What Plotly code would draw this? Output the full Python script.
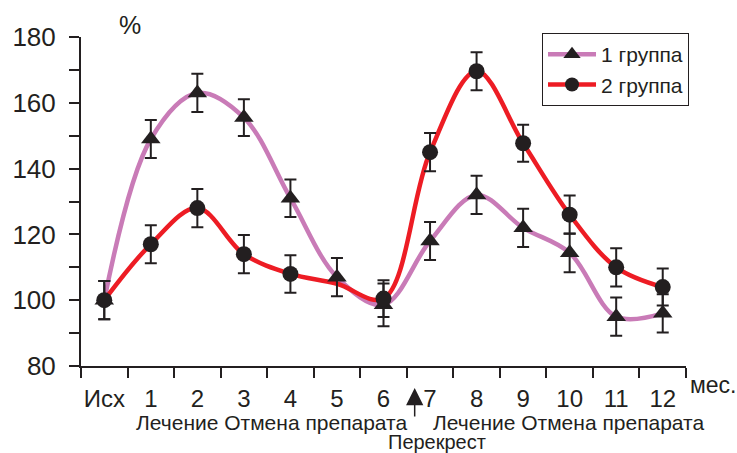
import plotly.graph_objects as go

categories = ["Исх", "1", "2", "3", "4", "5", "6", "7", "8", "9", "10", "11", "12"]
x_pos = list(range(len(categories)))

group1 = [100, 149, 163, 155.5, 131, 107, 98.6, 118, 132, 122, 114.4, 95, 96]
group1_err = [5.8, 5.8, 5.8, 5.6, 5.7, 5.8, 6.5, 5.8, 5.8, 5.8, 5.9, 5.8, 5.8]

group2_line = [100, 117, 128, 114, 108, 105, 100.5, 145, 169.6, 147.7, 126, 110, 104]
group2 = [100, 117, 128, 114, 108, None, 100.5, 145, 169.6, 147.7, 126, 110, 104]
group2_err = [5.8, 5.8, 5.8, 5.8, 5.7, None, 5.6, 5.8, 5.8, 5.6, 5.8, 5.8, 5.6]

names = ["1 группа", "2 группа"]
pink = "#C97BB7"
red = "#ED1C24"
ink = "#231F20"
font_family = "Liberation Sans, Arial, sans-serif"

fig = go.Figure()

fig.add_trace(go.Scatter(x=x_pos, y=group1, mode="lines", line=dict(color=pink, width=4.5, shape="spline"),
                         showlegend=False, hoverinfo="skip"))
fig.add_trace(go.Scatter(x=x_pos, y=group2_line, mode="lines", line=dict(color=red, width=4.5, shape="spline"),
                         showlegend=False, hoverinfo="skip"))
fig.add_trace(go.Scatter(x=x_pos, y=group1, mode="markers",
                         marker=dict(symbol="triangle-up", size=17, color=ink),
                         error_y=dict(type="data", array=group1_err, color=ink, thickness=2, width=6),
                         showlegend=False))
fig.add_trace(go.Scatter(x=x_pos, y=group2, mode="markers",
                         marker=dict(symbol="circle", size=16, color=ink),
                         error_y=dict(type="data", array=group2_err, color=ink, thickness=2, width=6),
                         showlegend=False))
# legend entries
fig.add_trace(go.Scatter(x=[None], y=[None], mode="lines+markers", name=names[0],
                         line=dict(color=pink, width=4.5),
                         marker=dict(symbol="triangle-up", size=15, color=ink)))
fig.add_trace(go.Scatter(x=[None], y=[None], mode="lines+markers", name=names[1],
                         line=dict(color=red, width=4.5),
                         marker=dict(symbol="circle", size=14, color=ink)))

fig.update_layout(
    width=737, height=453,
    margin=dict(l=73, r=51, t=37, b=87),
    paper_bgcolor="white", plot_bgcolor="white",
    font=dict(family=font_family, color=ink),
    showlegend=True,
    legend=dict(x=0.762, y=1.012, xanchor="left", yanchor="top",
                bgcolor="white", bordercolor=ink, borderwidth=1,
                itemwidth=48,
                font=dict(size=21, color=ink), tracegroupgap=0),
)

fig.update_xaxes(
    range=[-0.5, 12.5],
    tickmode="array", tickvals=x_pos, ticktext=categories,
    ticks="", showgrid=False, zeroline=False,
    showline=True, linecolor=ink, linewidth=2,
    tickfont=dict(size=24, color=ink),
    ticklabelstandoff=10,
    minor=dict(tickmode="linear", tick0=-0.5, dtick=1, ticks="outside",
               ticklen=10, tickwidth=2, tickcolor=ink, showgrid=False),
)
fig.update_yaxes(
    range=[80, 180],
    tickmode="linear", tick0=80, dtick=20,
    ticks="outside", ticklen=10, tickwidth=2, tickcolor=ink,
    showgrid=False, zeroline=False,
    showline=True, linecolor=ink, linewidth=2,
    tickfont=dict(size=26, color=ink),
    ticklabelstandoff=8,
    minor=dict(tickmode="linear", tick0=80, dtick=10, ticks="outside",
               ticklen=10, tickwidth=2, tickcolor=ink, showgrid=False),
)

fig.add_annotation(text="%", xref="paper", yref="paper", x=0.0816, y=1.036,
                   xanchor="center", yanchor="middle", showarrow=False,
                   font=dict(size=25, color=ink))
fig.add_annotation(text="мес.", xref="paper", yref="paper", x=1.003, y=-0.058,
                   xanchor="left", yanchor="middle", showarrow=False,
                   font=dict(size=23, color=ink))
fig.add_annotation(text="Лечение Отмена препарата", xref="x", yref="paper", x=3.59, y=-0.173,
                   xanchor="center", yanchor="middle", showarrow=False,
                   font=dict(size=21, color=ink))
fig.add_annotation(text="Лечение Отмена препарата", xref="x", yref="paper", x=9.98, y=-0.173,
                   xanchor="center", yanchor="middle", showarrow=False,
                   font=dict(size=21, color=ink))
fig.add_annotation(text="Перекрест", xref="x", yref="paper", x=7.14, y=-0.232,
                   xanchor="center", yanchor="middle", showarrow=False,
                   font=dict(size=20, color=ink))
fig.add_annotation(text="", xref="x", yref="paper", x=6.67, y=-0.0669,
                   showarrow=True, ax=0, ay=30, arrowhead=2, arrowsize=2.3,
                   arrowwidth=1.5, arrowcolor=ink)

fig.write_html("out.html", config={"displayModeBar": False},
               post_script="document.body.style.margin='0';document.body.style.overflow='hidden';")
